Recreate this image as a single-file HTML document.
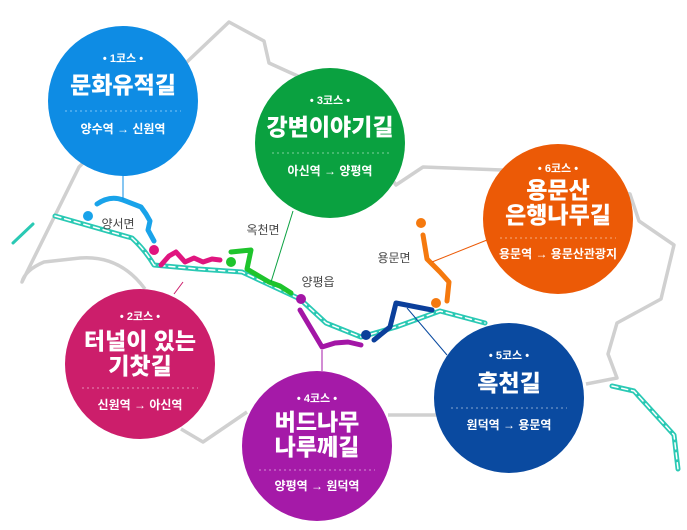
<!DOCTYPE html>
<html><head><meta charset="utf-8"><style>
html,body{margin:0;padding:0;background:#fff;width:687px;height:530px;overflow:hidden}
svg{display:block}
text{font-family:"Liberation Sans","Noto Sans CJK KR",sans-serif;fill:#fff;text-anchor:middle}
.pl{fill:#444;font-size:12px}
.t{font-weight:900;font-size:23px}
.s{font-size:12px;font-weight:bold}
.c{font-size:11px;font-weight:bold}
</style></head><body>
<svg width="687" height="530" viewBox="0 0 687 530">
<g fill="none" stroke="#d0d0d0" stroke-width="3.5" stroke-linejoin="round">
<path d="M145,289 Q120,255 80,258 L44,262 Q25,270 22,282 L79,167 L189,60 L229,22 L264,41 L269,63 L291,73 L330,90 L396,185 L423,167 L502,170 L630,194 L639,221 L674,245 L661,299 L617,323 L608,354 L617,378 L586,384"/>
<path d="M440,415 L388,415"/>
<path d="M247,412 L203,442 L181,429"/>
</g>
<g fill="none" stroke-linecap="round" stroke-linejoin="round">
<path d="M55,216 L132,238 Q145,250 154,265 L198,269 L242,272 L300,299 L326,323 L361,337 L396,327 L440,311 L485,323" stroke="#2ac9b4" stroke-width="5"/>
<path d="M55,216 L132,238 Q145,250 154,265 L198,269 L242,272 L300,299 L326,323 L361,337 L396,327 L440,311 L485,323" stroke="#fff" stroke-width="1.5" stroke-dasharray="6 4"/>
<path d="M612,386 L634,391 L674,435 L678,469" stroke="#2ac9b4" stroke-width="5"/>
<path d="M612,386 L634,391 L674,435 L678,469" stroke="#fff" stroke-width="1.5" stroke-dasharray="6 4"/>
<path d="M13,243 L33,224" stroke="#2ac9b4" stroke-width="3"/>
<path d="M97,204 Q110,195 123,200 L141,207 L146,214 L150,221 L148,230 L154,241" stroke="#19a3ea" stroke-width="5"/>
<path d="M161,265 L169,256 L176,252 L185,262 L194,258 L203,262 L212,259 L220,260" stroke="#e0157f" stroke-width="5"/>
<path d="M231,252 L251,250 L247,269 L269,282 L280,286 L291,293" stroke="#1ec42c" stroke-width="5"/>
<path d="M300,310 L322,347 L335,343 L348,342 L361,345" stroke="#a316a6" stroke-width="5"/>
<path d="M374,340 L390,327 L396,303 L432,310" stroke="#0b3f9b" stroke-width="5"/>
<path d="M423,235 L427,259 L440,272 L449,282 L447,301" stroke="#f5790e" stroke-width="5"/>
</g>
<circle cx="88" cy="216" r="5" fill="#19a3ea"/>
<circle cx="154" cy="250" r="5" fill="#e0157f"/>
<circle cx="231" cy="262" r="5" fill="#1ec42c"/>
<circle cx="301" cy="299" r="5" fill="#a316a6"/>
<circle cx="366" cy="335" r="5" fill="#0b3f9b"/>
<circle cx="421" cy="223" r="5" fill="#f5790e"/>
<circle cx="436" cy="303" r="5" fill="#f5790e"/>
<g stroke-width="1">
<line x1="123" y1="176" x2="123" y2="200" stroke="#0e8ce4"/>
<line x1="293" y1="211" x2="271" y2="282" stroke="#0aa140"/>
<line x1="183" y1="282" x2="174" y2="294" stroke="#cc1e6b"/>
<line x1="322" y1="350" x2="322" y2="371" stroke="#a51aa8"/>
<line x1="487" y1="240" x2="432" y2="262" stroke="#ec5a06"/>
<line x1="407" y1="308" x2="447" y2="355" stroke="#0a4aa0"/>
</g>
<text class="pl" x="118" y="228">양서면</text>
<text class="pl" x="263" y="234">옥천면</text>
<text class="pl" x="318" y="286">양평읍</text>
<text class="pl" x="394" y="262">용문면</text>

<g>
<circle cx="123" cy="101" r="75" fill="#0e8ce4"/>
<text class="c" x="123" y="62">• 1코스 •</text>
<text class="t" x="123" y="93">문화유적길</text>
<line x1="65" y1="111" x2="181" y2="111" stroke="#7fc3f3" stroke-dasharray="2 3"/>
<text class="s" x="123" y="133">양수역 → 신원역</text>
</g>
<g>
<circle cx="330" cy="143" r="75" fill="#0aa140"/>
<text class="c" x="330" y="104">• 3코스 •</text>
<text class="t" x="330" y="135">강변이야기길</text>
<line x1="272" y1="153" x2="390" y2="153" stroke="#7fd19c" stroke-dasharray="2 3"/>
<text class="s" x="330" y="175">아신역 → 양평역</text>
</g>
<g>
<circle cx="558" cy="219" r="75" fill="#ec5a06"/>
<text class="c" x="558" y="172">• 6코스 •</text>
<text class="t" x="558" y="198">용문산</text>
<text class="t" x="558" y="223">은행나무길</text>
<line x1="500" y1="238" x2="616" y2="238" stroke="#f5ac80" stroke-dasharray="2 3"/>
<text class="s" x="558" y="258">용문역 → 용문산관광지</text>
</g>
<g>
<circle cx="140" cy="364" r="75" fill="#cc1e6b"/>
<text class="c" x="140" y="320">• 2코스 •</text>
<text class="t" x="140" y="349">터널이 있는</text>
<text class="t" x="140" y="374">기찻길</text>
<line x1="82" y1="388" x2="198" y2="388" stroke="#e68fb5" stroke-dasharray="2 3"/>
<text class="s" x="140" y="409">신원역 → 아신역</text>
</g>
<g>
<circle cx="317" cy="446" r="75" fill="#a51aa8"/>
<text class="c" x="317" y="402">• 4코스 •</text>
<text class="t" x="317" y="430">버드나무</text>
<text class="t" x="317" y="455">나루께길</text>
<line x1="259" y1="470" x2="375" y2="470" stroke="#d28dd4" stroke-dasharray="2 3"/>
<text class="s" x="317" y="490">양평역 → 원덕역</text>
</g>
<g>
<circle cx="509" cy="398" r="75" fill="#0a4aa0"/>
<text class="c" x="509" y="359">• 5코스 •</text>
<text class="t" x="509" y="391">흑천길</text>
<line x1="451" y1="408" x2="567" y2="408" stroke="#85a5d0" stroke-dasharray="2 3"/>
<text class="s" x="509" y="429">원덕역 → 용문역</text>
</g>
</svg>
</body></html>
